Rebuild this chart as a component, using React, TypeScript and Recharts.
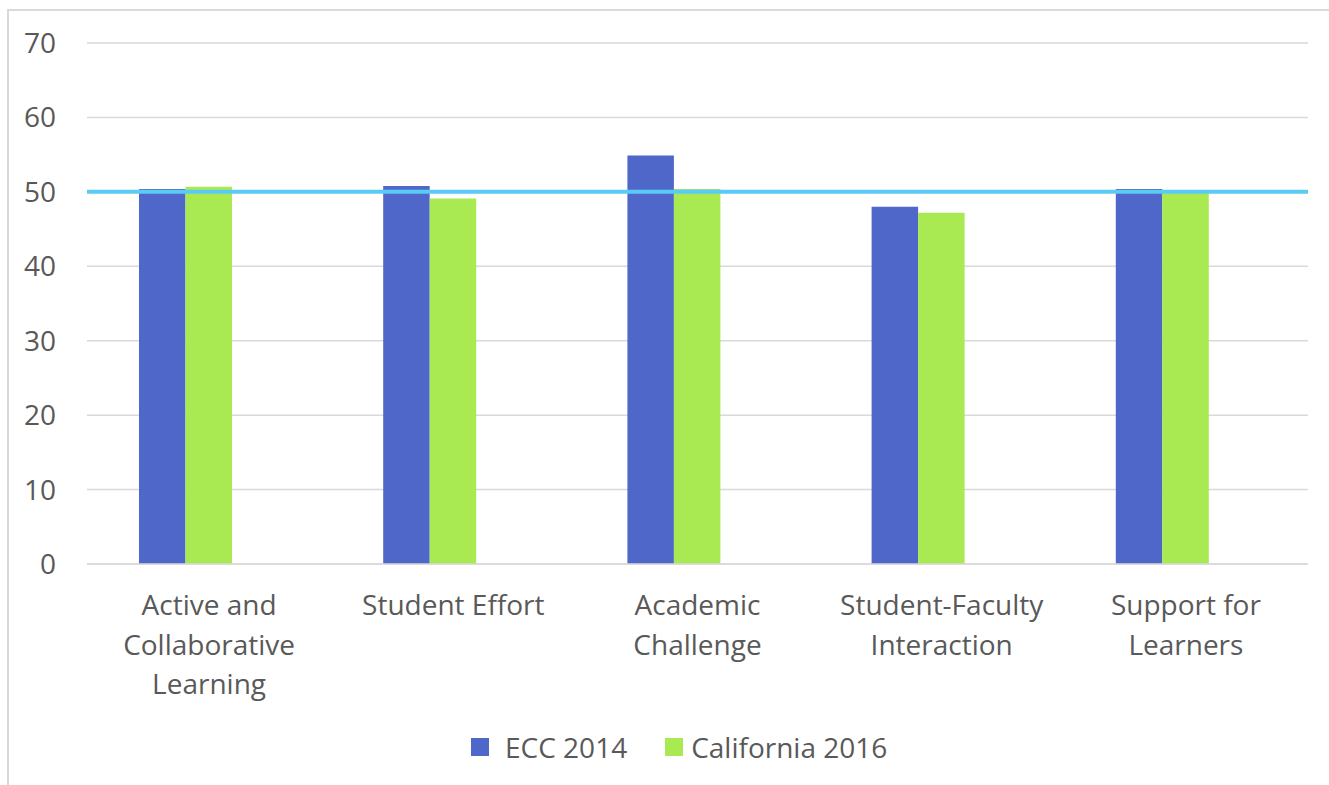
import React from "react";
import { Bar, BarChart, CartesianGrid, ReferenceLine, XAxis, YAxis } from "recharts";

// Engagement benchmark scores, ECC 2014 vs California 2016.
const CATEGORIES = [
  "Active and Collaborative Learning",
  "Student Effort",
  "Academic Challenge",
  "Student-Faculty Interaction",
  "Support for Learners",
];
// How each category label wraps under the axis.
const TICK_LINES = [
  ["Active and", "Collaborative", "Learning"],
  ["Student Effort"],
  ["Academic", "Challenge"],
  ["Student-Faculty", "Interaction"],
  ["Support for", "Learners"],
];
const ECC_2014 = [50.4, 50.8, 54.9, 48.0, 50.4];
const CALIFORNIA_2016 = [50.7, 49.1, 50.4, 47.2, 50.0];
const Y_TICKS = [0, 10, 20, 30, 40, 50, 60, 70];
const BENCHMARK = 50;

const SERIES = [
  { key: "ecc", name: "ECC 2014", color: "#4f67c8" },
  { key: "ca", name: "California 2016", color: "#a9ea52" },
];

const W = 1329;
const H = 785;
const FONT = "'Open Sans', sans-serif";
const TEXT = "#595959";
const GRID = "#d9d9d9";
const FS = 28;

// "empty" is a blank third series: the source chart reserves a slot for it,
// which pushes the two visible bars left of the category centre.
const data = CATEGORIES.map((c, i) => ({ cat: c, ecc: ECC_2014[i], ca: CALIFORNIA_2016[i], empty: null }));

function CategoryTick(props: any) {
  const { x, y, index } = props;
  const lines = TICK_LINES[index] ?? [props.payload.value];
  return (
    <text x={x} y={y} textAnchor="middle" fill={TEXT} fontSize={FS} fontFamily={FONT}>
      {lines.map((l: string, i: number) => (
        <tspan key={i} x={x} dy={i === 0 ? 51 : 39.5}>
          {l}
        </tspan>
      ))}
    </text>
  );
}

export default function App() {
  return (
    <div style={{ position: "fixed", left: 0, top: 0, width: W, height: H, overflow: "hidden", background: "#fff" }}>
      <div
        style={{
          position: "absolute",
          left: 7,
          top: 9,
          width: W + 40,
          height: H + 40,
          border: `2px solid ${GRID}`,
          boxSizing: "border-box",
        }}
      />
      <div style={{ position: "absolute", left: 0, top: 0 }}>
        <BarChart
          width={W}
          height={H}
          data={data}
          margin={{ top: 43, right: 21, bottom: 71, left: 0 }}
          barGap={0}
          barSize={46.5}
        >
          <CartesianGrid horizontal vertical={false} stroke={GRID} strokeWidth={1.5} />
          <XAxis
            dataKey="cat"
            height={150}
            interval={0}
            tickLine={false}
            tickSize={0}
            tickMargin={0}
            axisLine={{ stroke: GRID, strokeWidth: 1.5 }}
            tick={<CategoryTick />}
          />
          <YAxis
            width={87}
            domain={[0, 70]}
            ticks={Y_TICKS}
            tickLine={false}
            axisLine={false}
            tickSize={0}
            tickMargin={31}
            tick={{ fill: TEXT, fontSize: FS, fontFamily: FONT }}
          />
          {SERIES.map((s) => (
            <Bar key={s.key} dataKey={s.key} name={s.name} fill={s.color} isAnimationActive={false} />
          ))}
          <Bar dataKey="empty" fill="none" legendType="none" isAnimationActive={false} />
          <ReferenceLine y={BENCHMARK} stroke="#5bcbf5" strokeWidth={4} ifOverflow="extendDomain" />
        </BarChart>
      </div>
      <div
        style={{
          position: "absolute",
          left: 471,
          top: 728,
          display: "flex",
          alignItems: "center",
          fontFamily: FONT,
          fontSize: FS,
          color: TEXT,
          lineHeight: "38px",
          whiteSpace: "nowrap",
        }}
      >
        {SERIES.map((s, i) => (
          <div key={s.key} style={{ display: "flex", alignItems: "center", marginLeft: i === 0 ? 0 : 38 }}>
            <span style={{ display: "inline-block", width: 18, height: 18, background: s.color, marginRight: i === 0 ? 16 : 8 }} />
            <span>{s.name}</span>
          </div>
        ))}
      </div>
    </div>
  );
}
